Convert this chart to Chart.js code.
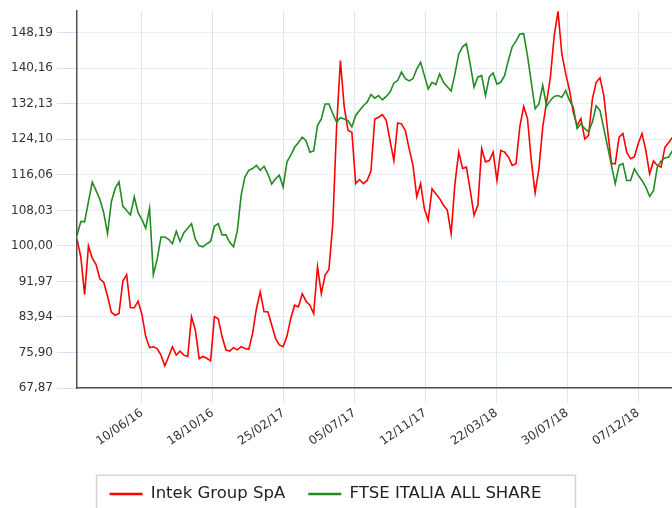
<!DOCTYPE html>
<html>
<head>
<meta charset="utf-8">
<title>Intek Group SpA vs FTSE ITALIA ALL SHARE</title>
<script src="https://cdn.jsdelivr.net/npm/chart.js@4.4.1/dist/chart.umd.min.js"></script>
<style>
  html, body { margin: 0; padding: 0; background: #ffffff; }
  #wrap { width: 672px; height: 508px; overflow: hidden; }
</style>
</head>
<body>
<div id="wrap"><canvas id="perfChart" width="672" height="508"></canvas></div>
<script>
// --- DATOS (lecturas semanales, base 100) ---
const startDate = '2016-02-12';   // primer punto de las series
const stepDays = 7;               // un valor cada semana

const seriesNames = ['Intek Group SpA', 'FTSE ITALIA ALL SHARE'];
const seriesColors = ['#ff0000', '#228b22'];

const intekValues = [
  101.5, 97.5, 89.0, 100.0, 97.2, 95.8, 92.5, 91.8, 88.6, 85.0,
  84.3, 84.7, 92.0, 93.5, 86.0, 86.0, 87.5, 84.5, 79.5, 77.0,
  77.2, 76.8, 75.3, 72.9, 75.0, 77.2, 75.3, 76.2, 75.3, 75.0,
  84.0, 81.0, 74.5, 75.0, 74.6, 74.0, 84.0, 83.5, 79.5, 76.5,
  76.2, 77.0, 76.5, 77.2, 76.8, 76.6, 80.2, 85.8, 89.6, 85.1,
  85.1, 82.1, 79.1, 77.6, 77.2, 79.6, 83.6, 86.6, 86.2, 89.2,
  87.5, 86.6, 84.7, 95.3, 89.2, 93.4, 94.7, 105.0, 126.9, 141.9,
  131.4, 126.1, 125.7, 114.1, 115.0, 114.1, 114.8, 117.0, 128.7, 129.1,
  129.7, 128.4, 123.8, 119.3, 127.8, 127.6, 126.1, 122.0, 118.2, 111.1,
  114.1, 108.4, 105.8, 112.9, 111.8, 110.7, 109.2, 108.1, 102.8, 114.1,
  121.2, 117.5, 117.8, 112.6, 106.9, 109.2, 122.0, 119.0, 119.3, 121.2,
  114.8, 121.6, 121.2, 120.1, 118.2, 118.6, 127.0, 131.5, 128.8, 119.3,
  112.0, 117.5, 126.9, 132.5, 138.1, 147.5, 153.0, 143.4, 139.0, 135.2,
  130.2, 127.2, 128.8, 124.2, 125.0, 133.2, 137.0, 138.0, 134.0, 126.1,
  118.6, 118.6, 124.6, 125.4, 121.2, 119.7, 120.1, 123.1, 125.4, 121.6,
  116.3, 119.2, 118.2, 117.8, 122.3, 123.4, 124.6
];

const ftseValues = [
  102.4, 105.5, 105.5, 110.0, 114.4, 112.5, 110.5, 107.5, 102.8, 110.0,
  113.0, 114.5, 109.0, 108.0, 107.0, 111.1, 107.5, 106.0, 104.0, 108.5,
  93.5, 97.0, 102.0, 102.0, 101.5, 100.5, 103.3, 101.0, 103.0, 104.0,
  105.0, 101.5, 100.0, 99.8, 100.5, 101.0, 104.5, 105.0, 102.5, 102.5,
  100.8, 99.8, 103.4, 111.5, 115.6, 117.1, 117.5, 118.2, 117.1, 118.0,
  116.3, 114.0, 115.2, 116.0, 113.3, 119.0, 120.5, 122.3, 123.4, 124.6,
  123.8, 121.2, 121.5, 127.2, 128.7, 132.1, 132.1, 129.9, 128.0, 129.0,
  128.7, 128.3, 126.9, 129.5, 130.6, 131.7, 132.5, 134.2, 133.4, 134.0,
  133.0, 133.8, 134.8, 136.8, 137.4, 139.3, 137.8, 137.3, 137.8, 140.0,
  141.5, 138.5, 135.5, 137.0, 136.5, 138.9, 137.0, 136.0, 135.0, 138.9,
  143.4, 145.0, 145.7, 141.1, 135.9, 138.2, 138.5, 134.0, 138.2, 139.1,
  136.6, 137.0, 138.5, 142.0, 145.0, 146.3, 147.9, 148.0, 143.0, 137.0,
  131.0, 132.1, 136.3, 131.6, 132.9, 133.8, 134.0, 133.6, 135.1, 132.9,
  131.4, 126.5, 127.6, 126.5, 125.8, 128.0, 131.7, 130.6, 126.5, 122.4,
  118.2, 114.1, 118.2, 118.6, 114.8, 114.8, 117.4, 116.0, 114.8, 113.3,
  111.2, 112.5, 117.8, 119.2, 119.9, 120.1, 121.6
];

// Etiquetas de los ejes
const xTickLabels = ['10/06/16', '18/10/16', '25/02/17', '05/07/17', '12/11/17', '22/03/18', '30/07/18', '07/12/18'];
const yTickValues = [67.87, 75.90, 83.94, 91.97, 100.00, 108.03, 116.06, 124.10, 132.13, 140.16, 148.19];
const yMin = 67.87;
const yMax = 153.07;
const xEndDays = 1091;

// --- PREPARACIÓN ---
const DAY_MS = 86400000;
const t0 = Date.parse(startDate + 'T00:00:00Z');

// 'dd/mm/yy' -> días desde startDate
function dayOffset(label) {
    const [d, m, y] = label.split('/').map(Number);
    return Math.round((Date.UTC(2000 + y, m - 1, d) - t0) / DAY_MS);
}

const xTickDays = xTickLabels.map(dayOffset);
const toPoints = (values) => values.map((v, i) => ({ x: i * stepDays, y: v }));
const formatNumber = (v) => v.toFixed(2).replace('.', ',');

const FONT = "'DejaVu Sans', Verdana, sans-serif";

// Leyenda: desplazada un poco a la izquierda y con marco gris
const legendFrame = {
    id: 'legendFrame',
    afterLayout(chart) {
        const legend = chart.legend;
        if (!legend) return;
        legend.left -= 10.5;
        legend.right -= 10.5;
    },
    afterDraw(chart) {
        const legend = chart.legend;
        if (!legend || !legend.legendHitBoxes || !legend.legendHitBoxes.length) return;
        const boxes = legend.legendHitBoxes;
        const first = boxes[0];
        const last = boxes[boxes.length - 1];
        const left = first.left - 13;
        const right = last.left + last.width + 34;
        const top = first.top - 10.5;
        const ctx = chart.ctx;
        ctx.save();
        ctx.strokeStyle = '#d4d4d4';
        ctx.lineWidth = 1.5;
        ctx.strokeRect(left, top, right - left, 60);
        ctx.restore();
    }
};

new Chart(document.getElementById('perfChart'), {
    type: 'line',
    data: {
        datasets: [
            {
                label: seriesNames[0],
                data: toPoints(intekValues),
                borderColor: seriesColors[0],
                backgroundColor: seriesColors[0],
                borderWidth: 1.6,
                pointRadius: 0,
                tension: 0,
                fill: false,
                order: 1
            },
            {
                label: seriesNames[1],
                data: toPoints(ftseValues),
                borderColor: seriesColors[1],
                backgroundColor: seriesColors[1],
                borderWidth: 1.6,
                pointRadius: 0,
                tension: 0,
                fill: false,
                order: 0
            }
        ]
    },
    options: {
        responsive: false,
        animation: false,
        events: [],
        layout: { padding: { top: 10, left: 0, right: 0, bottom: -4.25 } },
        plugins: {
            tooltip: { enabled: false },
            legend: {
                position: 'bottom',
                labels: {
                    usePointStyle: true,
                    pointStyleWidth: 33,
                    padding: 23,
                    color: '#222222',
                    font: { family: FONT, size: 16.5 },
                    generateLabels: (chart) => chart.data.datasets.map((ds, i) => ({
                        text: ds.label,
                        fillStyle: ds.borderColor,
                        strokeStyle: ds.borderColor,
                        lineWidth: 2.5,
                        pointStyle: 'line',
                        hidden: false,
                        datasetIndex: i,
                        fontColor: '#222222'
                    }))
                }
            }
        },
        scales: {
            x: {
                type: 'linear',
                min: 0,
                max: xEndDays,
                afterBuildTicks: (scale) => { scale.ticks = xTickDays.map((v) => ({ value: v })); },
                afterFit: (scale) => { scale.height = 74.75; },
                grid: { color: '#dbe7f5', lineWidth: 1, tickLength: 15, tickColor: '#dbe7f5' },
                border: { display: true, color: '#505050', width: 1.5 },
                ticks: {
                    autoSkip: false,
                    minRotation: 35,
                    maxRotation: 35,
                    padding: 3,
                    color: '#333333',
                    font: { family: FONT, size: 12 },
                    callback: (value) => {
                        const idx = xTickDays.indexOf(value);
                        return idx >= 0 ? xTickLabels[idx] : '';
                    }
                }
            },
            y: {
                min: yMin,
                max: yMax,
                afterBuildTicks: (scale) => { scale.ticks = yTickValues.map((v) => ({ value: v })); },
                afterFit: (scale) => { scale.width = 77; },
                grid: { color: '#d3e2f3', lineWidth: 1, tickLength: 20, tickColor: '#d3e2f3' },
                border: { display: true, color: '#505050', width: 1.5, dash: [2, 2] },
                ticks: {
                    padding: 4,
                    color: '#333333',
                    font: { family: FONT, size: 12 },
                    callback: (value) => formatNumber(value)
                }
            }
        }
    },
    plugins: [legendFrame]
});
</script>
</body>
</html>
